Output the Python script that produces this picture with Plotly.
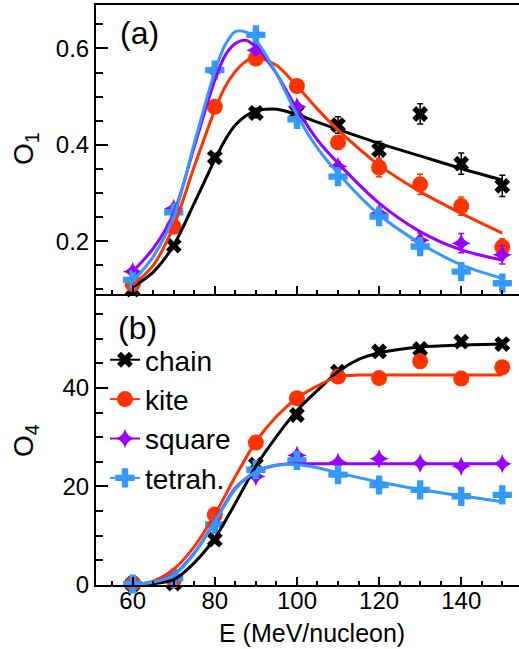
import plotly.graph_objects as go

# ---------------- data ----------------
E = [60, 70, 80, 90, 100, 110, 120, 130, 140, 150]

# panel (a): O1
O1_chain = [0.100, 0.191, 0.374, 0.466, 0.468, 0.441, 0.389, 0.464, 0.361, 0.315]
O1_kite = [0.111, 0.230, 0.479, 0.579, 0.522, 0.405, 0.353, 0.318, 0.273, 0.188]
O1_square = [0.137, 0.268, 0.552, 0.596, 0.479, 0.355, 0.258, 0.202, 0.196, 0.172]
O1_tetrah = [0.120, 0.260, 0.555, 0.628, 0.453, 0.334, 0.251, 0.189, 0.137, 0.113]

O1_chain_err = [0.005, 0.006, 0.008, 0.010, 0.012, 0.017, 0.018, 0.021, 0.022, 0.022]
O1_kite_err = [0.004, 0.005, 0.007, 0.008, 0.010, 0.014, 0.019, 0.021, 0.019, 0.017]
O1_square_err = [0.004, 0.005, 0.006, 0.007, 0.008, 0.010, 0.012, 0.015, 0.020, 0.019]
O1_tetrah_err = [0.003, 0.004, 0.005, 0.006, 0.007, 0.008, 0.009, 0.010, 0.011, 0.012]

FIT_E1 = [60, 65, 70, 75, 80, 82.5, 85, 87.5, 90, 95, 100, 105, 110, 120, 130, 140, 150]
O1_chain_fit = [0.105, 0.136, 0.192, 0.279, 0.369, 0.410, 0.441, 0.460, 0.471, 0.474, 0.463,
                0.447, 0.432, 0.403, 0.377, 0.351, 0.327]
O1_kite_fit = [0.109, 0.150, 0.232, 0.355, 0.472, 0.520, 0.552, 0.573, 0.581, 0.565, 0.522,
               0.474, 0.431, 0.358, 0.303, 0.258, 0.217]
O1_square_fit = [0.137, 0.185, 0.258, 0.396, 0.534, 0.585, 0.610, 0.617, 0.603, 0.548, 0.474,
                 0.410, 0.362, 0.279, 0.220, 0.182, 0.161]
O1_tetrah_fit = [0.116, 0.168, 0.251, 0.403, 0.552, 0.607, 0.635, 0.634, 0.617, 0.548, 0.462,
                 0.393, 0.341, 0.255, 0.196, 0.151, 0.123]

# panel (b): O4
O4_chain = [0.2, 0.3, 9.2, 24.4, 34.5, 43.3, 47.4, 47.9, 49.4, 48.9]
O4_kite = [0.3, 1.0, 14.3, 28.9, 37.9, 42.3, 42.0, 45.4, 41.9, 44.2]
O4_square = [0.2, 1.2, 12.5, 22.0, 26.3, 24.9, 25.6, 24.7, 24.1, 24.6]
O4_tetrah = [0.2, 1.4, 12.3, 23.4, 25.3, 22.4, 20.3, 19.3, 18.0, 18.3]

FIT_E4 = [60, 65, 70, 75, 80, 85, 90, 95, 100, 105, 110, 115, 120, 130, 140, 150]
O4_chain_fit = [0.0, 0.3, 1.1, 4.5, 9.5, 16.6, 24.1, 30.1, 35.4, 39.5, 43.3, 45.8, 47.1, 48.3, 48.7, 48.9]
O4_kite_fit = [0.0, 0.8, 3.2, 7.8, 14.3, 22.0, 29.1, 34.2, 37.9, 40.4, 42.3, 42.6, 42.6, 42.6, 42.6, 42.6]
O4_square_fit = [0.0, 0.6, 2.1, 6.5, 12.9, 19.7, 23.0, 24.3, 24.6, 24.6, 24.6, 24.6, 24.6, 24.6, 24.6, 24.6]
O4_tetrah_fit = [0.0, 0.6, 2.0, 6.4, 12.8, 19.5, 23.0, 24.3, 24.4, 23.8, 22.8, 21.8, 20.9, 19.4, 18.1, 16.9]

NAMES = ["chain", "kite", "square", "tetrah."]
COLORS = ["#000000", "#FF3300", "#9900FF", "#3399FF"]
SYMBOLS = ["x", "circle", "star-diamond", "cross"]
SIZES = [14, 16, 14, 16]

FONT = "Liberation Sans, Arial, Helvetica, sans-serif"

series1 = [(O1_chain, O1_chain_err, O1_chain_fit), (O1_kite, O1_kite_err, O1_kite_fit),
           (O1_square, O1_square_err, O1_square_fit), (O1_tetrah, O1_tetrah_err, O1_tetrah_fit)]
series4 = [(O4_chain, O4_chain_fit), (O4_kite, O4_kite_fit),
           (O4_square, O4_square_fit), (O4_tetrah, O4_tetrah_fit)]

fig = go.Figure()

# top panel (a)
for i, (vals, errs, fit) in enumerate(series1):
    fig.add_trace(go.Scatter(
        x=E, y=vals, mode="markers", xaxis="x2", yaxis="y2", showlegend=False,
        marker=dict(symbol=SYMBOLS[i], size=SIZES[i], color=COLORS[i], line=dict(width=0)),
        error_y=dict(type="data", array=errs, color=COLORS[i], thickness=1.5, width=3),
        cliponaxis=False))
for i, (vals, errs, fit) in enumerate(series1):
    fig.add_trace(go.Scatter(
        x=FIT_E1, y=fit, mode="lines", xaxis="x2", yaxis="y2", showlegend=False,
        line=dict(color=COLORS[i], width=3, shape="spline", smoothing=0.8)))

# bottom panel (b)
for i, (vals, fit) in enumerate(series4):
    fig.add_trace(go.Scatter(
        x=E, y=vals, mode="markers", xaxis="x", yaxis="y", showlegend=False,
        marker=dict(symbol=SYMBOLS[i], size=SIZES[i], color=COLORS[i], line=dict(width=0)),
        cliponaxis=False))
for i, (vals, fit) in enumerate(series4):
    fig.add_trace(go.Scatter(
        x=FIT_E4, y=fit, mode="lines", xaxis="x", yaxis="y", showlegend=False,
        line=dict(color=COLORS[i], width=3, shape="spline", smoothing=0.8)))

# legend entries (line + marker look)
for i in range(4):
    fig.add_trace(go.Scatter(
        x=[None], y=[None], mode="lines+markers", name=NAMES[i], xaxis="x", yaxis="y",
        marker=dict(symbol=SYMBOLS[i], size=SIZES[i], color=COLORS[i], line=dict(width=0)),
        line=dict(color=COLORS[i], width=2)))

SPLIT = 0.5012
XR = [51.07, 154.07]
common_x = dict(range=XR, showgrid=False, zeroline=False, showline=True, linecolor="black",
                linewidth=2, ticks="inside", ticklen=8, tickwidth=1.5, tickcolor="black",
                tick0=0, dtick=20,
                minor=dict(dtick=5, ticks="inside", ticklen=4, tickwidth=1.5, tickcolor="black"))

fig.update_layout(
    width=519, height=649,
    margin=dict(l=96, r=0, t=5, b=64),
    paper_bgcolor="white", plot_bgcolor="white",
    font=dict(family=FONT, color="black"),
    xaxis=dict(anchor="y", domain=[0, 1], ticklabelstandoff=-7,
               tickfont=dict(family=FONT, size=24, color="black"), **common_x),
    xaxis2=dict(anchor="y2", domain=[0, 1], matches="x", showticklabels=False, mirror=True,
                **common_x),
    yaxis=dict(anchor="x", domain=[0, SPLIT], range=[0, 59], showgrid=False, zeroline=False,
               showline=True, linecolor="black", linewidth=2, ticks="inside", ticklen=12,
               tickwidth=1.5, tickcolor="black", tick0=0, dtick=20,
               minor=dict(dtick=5, ticks="inside", ticklen=7, tickwidth=1.5, tickcolor="black"),
               tickfont=dict(family=FONT, size=24, color="black")),
    yaxis2=dict(anchor="x2", domain=[SPLIT, 1], range=[0.09, 0.69], showgrid=False,
                zeroline=False, showline=True, linecolor="black", linewidth=2, ticks="inside",
                ticklen=12, tickwidth=1.5, tickcolor="black", tick0=0, dtick=0.2,
                minor=dict(dtick=0.05, ticks="inside", ticklen=7, tickwidth=1.5, tickcolor="black"),
                tickfont=dict(family=FONT, size=24, color="black")),
    legend=dict(x=0.0213, y=0.431, xanchor="left", yanchor="top", bgcolor="rgba(0,0,0,0)",
                borderwidth=0, font=dict(family=FONT, size=28, color="black"),
                tracegroupgap=0),
    showlegend=True,
    annotations=[
        dict(text="(a)", x=0.104, y=0.952, xref="paper", yref="paper", showarrow=False,
             font=dict(family=FONT, size=32, color="black"), xanchor="center", yanchor="middle"),
        dict(text="(b)", x=0.099, y=0.443, xref="paper", yref="paper", showarrow=False,
             font=dict(family=FONT, size=32, color="black"), xanchor="center", yanchor="middle"),
        dict(text="O<sub>1</sub>", x=-0.168, y=0.7534, xref="paper", yref="paper",
             showarrow=False, textangle=-90, font=dict(family=FONT, size=28, color="black"),
             xanchor="center", yanchor="middle"),
        dict(text="O<sub>4</sub>", x=-0.168, y=0.25, xref="paper", yref="paper",
             showarrow=False, textangle=-90, font=dict(family=FONT, size=28, color="black"),
             xanchor="center", yanchor="middle"),
        dict(text="E (MeV/nucleon)", x=0.51, y=-0.1103, xref="paper", yref="paper",
             showarrow=False, font=dict(family=FONT, size=25, color="black"),
             xanchor="center", yanchor="bottom"),
    ],
)

fig.write_html("out.html", config={"displayModeBar": False},
               post_script="document.body.style.margin='0';")
